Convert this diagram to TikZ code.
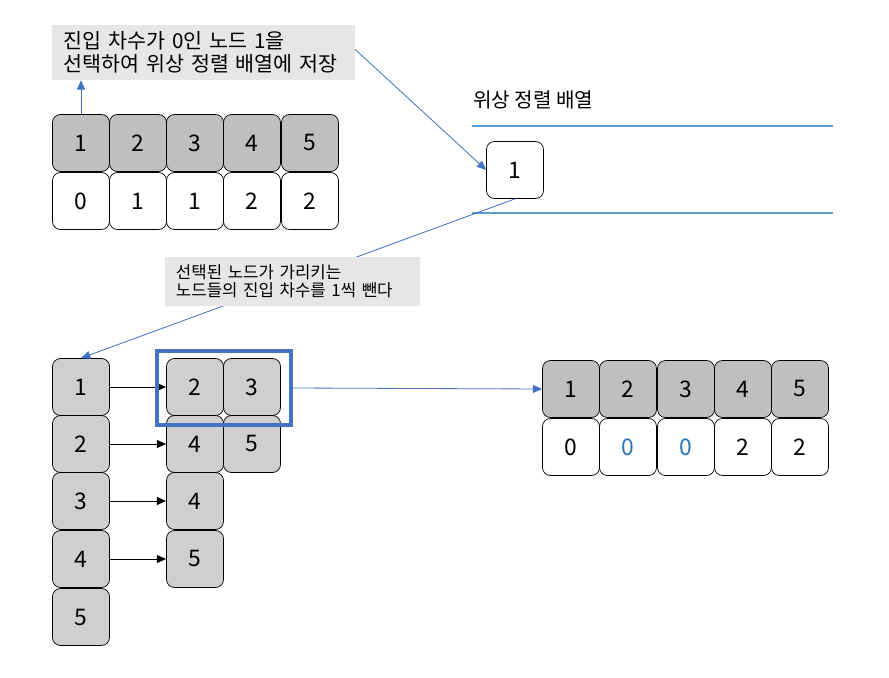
\documentclass[tikz,border=0pt]{standalone}
\usepackage{fontspec}
\setmainfont{Noto Sans CJK KR}
\usetikzlibrary{arrows.meta,positioning}
\definecolor{headGray}{HTML}{BFBFBF}
\definecolor{listGray}{HTML}{D0CECE}
\definecolor{noteFill}{HTML}{E7E6E6}
\definecolor{lineBlue}{HTML}{5B9BD5}
\definecolor{arrBlue}{HTML}{4472C4}
\definecolor{numBlue}{HTML}{2E75B6}
\tikzset{
  cell/.style ={draw, rounded corners=2.4mm, minimum width=1.71cm, minimum height=1.71cm, inner sep=0pt, line width=0.6pt, font=\fontsize{19.5}{22}\selectfont},
  head/.style ={cell, fill=headGray},
  deg/.style  ={cell, fill=white},
  adj/.style  ={cell, fill=listGray},
  note/.style ={fill=noteFill, align=left, inner ysep=0pt},
  barr/.style ={-{Triangle[length=2.8mm,width=2.4mm]}, draw=arrBlue, line width=0.7pt},
  karr/.style ={-{Triangle[length=2.8mm,width=2.4mm]}, line width=0.7pt},
}
\begin{document}
\begin{tikzpicture}[x=0.03cm,y=-0.03cm]
  \useasboundingbox (0,0) rectangle (889,678);

  % in-degree table before the step
  \node[head] (t1) at (81,143)  {1};
  \node[head] (t2) at (138,143) {2};
  \node[head] (t3) at (195,143) {3};
  \node[head] (t4) at (252,143) {4};
  \node[head] (t5) at (310,143) {5};
  \node[deg]  (d1) at (81,201)  {0};
  \node[deg]  (d2) at (138,201) {1};
  \node[deg]  (d3) at (195,201) {1};
  \node[deg]  (d4) at (252,201) {2};
  \node[deg]  (d5) at (310,201) {2};

  % first note: pick node 1
  \node[note, minimum width=9.09cm, minimum height=1.65cm, text width=8.4cm,
        font=\fontsize{17.6}{19.5}\selectfont] (pick) at (203.5,52.5)
        {진입 차수가 0인 노드 1을\\선택하여 위상 정렬 배열에 저장};
  \draw[barr] (t1.north) -- (t1.north |- pick.south);

  % result array
  \node[anchor=west, font=\fontsize{17.2}{19}\selectfont] (title) at (469,100) {위상 정렬 배열};
  \draw[lineBlue, line width=1.2pt] (472,126) -- (833,126);
  \draw[lineBlue, line width=1.2pt] (472,213) -- (833,213);
  \node[deg] (res1) at (515,170) {1};
  \draw[barr] (pick.east) ++(0,-3) -- (res1.west);

  % adjacency list
  \node[adj] (l1) at (81,387) {1};
  \node[adj] (l2) at (81,444) {2};
  \node[adj] (l3) at (81,501) {3};
  \node[adj] (l4) at (81,559) {4};
  \node[adj] (l5) at (81,617) {5};
  \node[adj] (a12) at (195,387) {2};
  \node[adj] (a13) at (252,387) {3};
  \node[adj] (a24) at (195,444) {4};
  \node[adj] (a25) at (252,444) {5};
  \node[adj] (a34) at (195,501) {4};
  \node[adj] (a45) at (195,559) {5};
  \draw[karr] (l1) -- (a12);
  \draw[karr] (l2) -- (a24);
  \draw[karr] (l3) -- (a34);
  \draw[karr] (l4) -- (a45);

  % second note: decrease in-degrees
  \draw[barr] (res1.south) -- (l1.north);
  \node[note, minimum width=7.65cm, minimum height=1.47cm, text width=6.99cm,
        font=\fontsize{14.3}{15.3}\selectfont] (dec) at (292.5,281.5)
        {선택된 노드가 가리키는\\노드들의 진입 차수를 1씩 뺀다};

  % neighbours of node 1 and updated table
  \node[draw=arrBlue, line width=2.6pt, minimum width=4.02cm, minimum height=2.22cm] (grp) at (224,388) {};
  \node[head] (r1) at (571,389) {1};
  \node[head] (r2) at (628,389) {2};
  \node[head] (r3) at (686,389) {3};
  \node[head] (r4) at (743,389) {4};
  \node[head] (r5) at (800,389) {5};
  \node[deg]  (e1) at (571,447) {0};
  \node[deg, text=numBlue] (e2) at (628,447) {0};
  \node[deg, text=numBlue] (e3) at (686,447) {0};
  \node[deg]  (e4) at (743,447) {2};
  \node[deg]  (e5) at (800,447) {2};
  \draw[barr] (grp.east) -- (r1.west);
\end{tikzpicture}
\end{document}
